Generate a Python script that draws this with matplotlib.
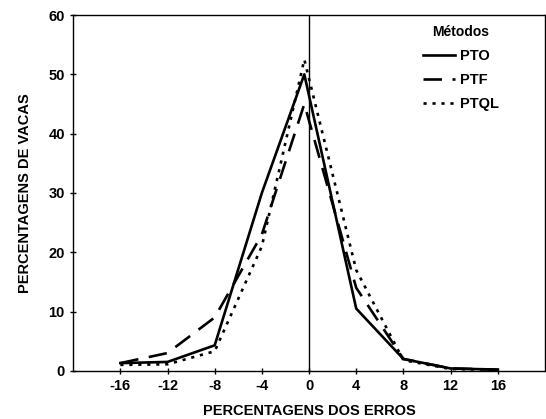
import matplotlib
matplotlib.use('Agg')
import matplotlib.pyplot as plt

# class centres of the error (%) and share of cows (%)
erros = [-16, -12, -8, -4, -0.4, 4, 8, 12, 16]
pto = [1.3, 1.5, 4.3, 30, 50, 10.5, 2.0, 0.4, 0.2]
ptf = [1.3, 3.0, 9.0, 23, 45, 14, 2.0, 0.4, 0.2]
ptql = [1.0, 1.1, 3.3, 21, 52.5, 17, 1.8, 0.3, 0.2]

xticks = [-16, -12, -8, -4, 0, 4, 8, 12, 16]
yticks = [0, 10, 20, 30, 40, 50, 60]

plt.rcParams['font.family'] = ['Liberation Sans', 'DejaVu Sans']
plt.rcParams['font.weight'] = 'bold'
plt.rcParams['axes.unicode_minus'] = False

fig = plt.figure(figsize=(5.46, 4.19), dpi=100)
ax = fig.add_axes([0.134, 0.115, 0.864, 0.849])

ax.plot(erros, pto, color='black', lw=1.9, ls='-', label='PTO')
ax.plot(erros, ptf, color='black', lw=1.9, ls=(0, (7, 4)), label='PTF')
ax.plot(erros, ptql, color='black', lw=1.9, ls=(0, (1.2, 2.2)), label='PTQL')

# reference line at zero error
ax.plot([0, 0], [0, 60], color='black', lw=1.0)

ax.set_xlim(-20, 20)
ax.set_ylim(0, 60)
ax.set_xticks(xticks)
ax.set_yticks(yticks)
ax.tick_params(direction='inout', length=5, width=1, labelsize=10.5)
for lab in ax.get_xticklabels() + ax.get_yticklabels():
    lab.set_fontweight('bold')
for sp in ax.spines.values():
    sp.set_linewidth(1.0)

ax.set_xlabel('PERCENTAGENS DOS ERROS', fontsize=10.5, fontweight='bold', labelpad=8)
ax.set_ylabel('PERCENTAGENS DE VACAS', fontsize=10.5, fontweight='bold', labelpad=12)

leg = ax.legend(title='Métodos', loc='upper right', bbox_to_anchor=(0.93, 1.01),
                frameon=False, handlelength=2.2, handletextpad=0.3,
                labelspacing=0.7, prop={'size': 10.5, 'weight': 'bold'},
                title_fontproperties={'size': 10, 'weight': 'bold'})

fig.savefig('out.png', dpi=100)
